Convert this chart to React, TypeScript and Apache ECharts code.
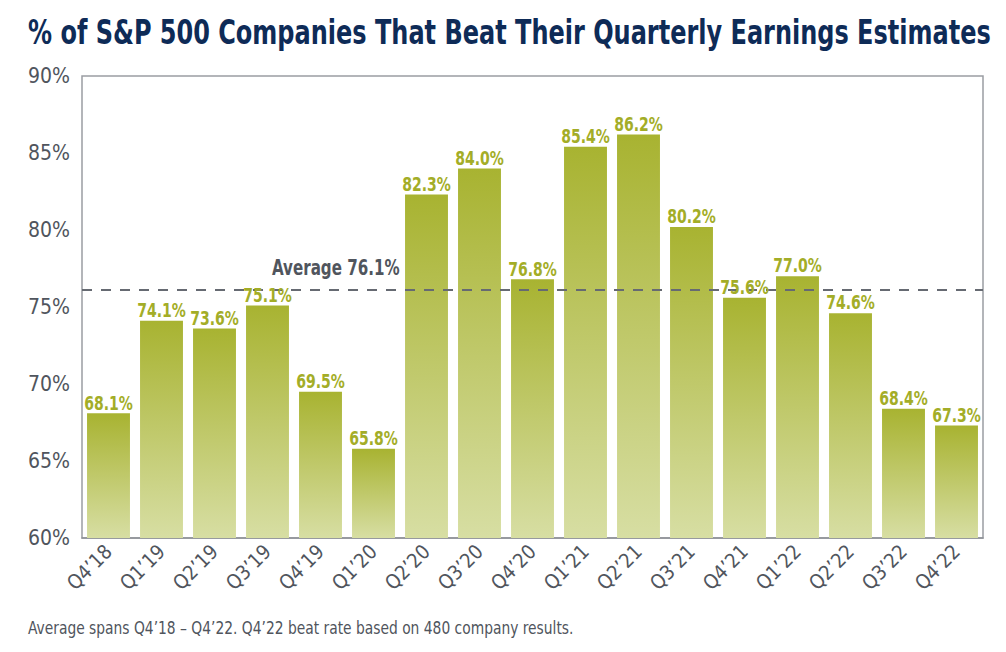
import { useEffect, useRef } from "react";
import * as echarts from "echarts";

const QUARTERS = [
  "Q4\u201918", "Q1\u201919", "Q2\u201919", "Q3\u201919", "Q4\u201919", "Q1\u201920",
  "Q2\u201920", "Q3\u201920", "Q4\u201920", "Q1\u201921", "Q2\u201921", "Q3\u201921",
  "Q4\u201921", "Q1\u201922", "Q2\u201922", "Q3\u201922", "Q4\u201922",
];
const BEAT_RATE = [68.1, 74.1, 73.6, 75.1, 69.5, 65.8, 82.3, 84.0, 76.8, 85.4, 86.2, 80.2, 75.6, 77.0, 74.6, 68.4, 67.3];
const AVERAGE = 76.1;

const TITLE = "% of S&P 500 Companies That Beat Their Quarterly Earnings Estimates";
const FOOTNOTE = "Average spans Q4\u201918 \u2013 Q4\u201922. Q4\u201922 beat rate based on 480 company results.";

const FONT = '"DejaVu Sans Condensed", "Noto Sans", sans-serif';
const NAVY = "#0e2b57";
const GREY = "#50555d";
const OLIVE = "#a3ad27";

export default function App() {
  const ref = useRef<HTMLDivElement>(null);

  useEffect(() => {
    document.body.style.margin = "0";
    if (!ref.current) return;
    const chart = echarts.init(ref.current, null, { renderer: "svg" });

    chart.setOption({
      animation: false,
      backgroundColor: "#ffffff",
      textStyle: { fontFamily: FONT },
      grid: {
        left: 82, right: 23, top: 76, bottom: 114,
        show: true, borderColor: "#9a9da3", borderWidth: 1.5, backgroundColor: "transparent",
      },
      xAxis: {
        type: "category",
        data: QUARTERS,
        axisLine: { show: true, lineStyle: { color: "#8e9197", width: 1.5 } },
        axisTick: { show: false },
        axisLabel: { rotate: 45, color: GREY, fontSize: 20, margin: 10, fontFamily: FONT, interval: 0 },
      },
      yAxis: {
        type: "value",
        min: 60, max: 90, interval: 5,
        axisLine: { show: false },
        axisTick: { show: false },
        splitLine: { show: false },
        axisLabel: { color: GREY, fontSize: 21, margin: 12, fontFamily: FONT, formatter: "{value}%" },
      },
      series: [
        {
          type: "bar",
          data: BEAT_RATE,
          barCategoryGap: "19%",
          itemStyle: {
            color: new echarts.graphic.LinearGradient(0, 0, 0, 1, [
              { offset: 0, color: "#a8b331" },
              { offset: 1, color: "#d7dea3" },
            ]),
          },
          markLine: {
            silent: true, symbol: "none",
            lineStyle: { color: "#666a72", width: 2, type: [10, 9] },
            label: { show: false },
            data: [{ yAxis: AVERAGE }],
          },
          z: 2,
        },
        {
          // value labels, condensed horizontally like the original typeface
          type: "custom",
          data: BEAT_RATE.map((v, i) => [i, v]),
          z: 5,
          renderItem: (_params: any, api: any) => {
            const p = api.coord([api.value(0), api.value(1)]);
            return {
              type: "text",
              x: p[0],
              y: p[1] - 1,
              scaleX: 0.78,
              style: {
                text: api.value(1).toFixed(1) + "%",
                align: "center", verticalAlign: "bottom",
                fill: OLIVE, fontSize: 20, fontWeight: "bold", fontFamily: FONT,
              },
            };
          },
        },
      ],
      graphic: [
        {
          type: "text", x: 28, y: 32, scaleX: 0.785, z: 10,
          style: { text: TITLE, fill: NAVY, fontSize: 34, fontWeight: "bold", fontFamily: FONT, verticalAlign: "middle" },
        },
        {
          type: "text", x: 272, y: 267, scaleX: 0.8, z: 10,
          style: { text: `Average ${AVERAGE.toFixed(1)}%`, fill: GREY, fontSize: 21, fontWeight: "bold", fontFamily: FONT, verticalAlign: "middle" },
        },
        {
          type: "text", x: 28, y: 628, scaleX: 0.855, z: 10,
          style: { text: FOOTNOTE, fill: GREY, fontSize: 18, fontFamily: FONT, verticalAlign: "middle" },
        },
      ],
    });

    return () => chart.dispose();
  }, []);

  return <div ref={ref} style={{ width: 1006, height: 652 }} />;
}
